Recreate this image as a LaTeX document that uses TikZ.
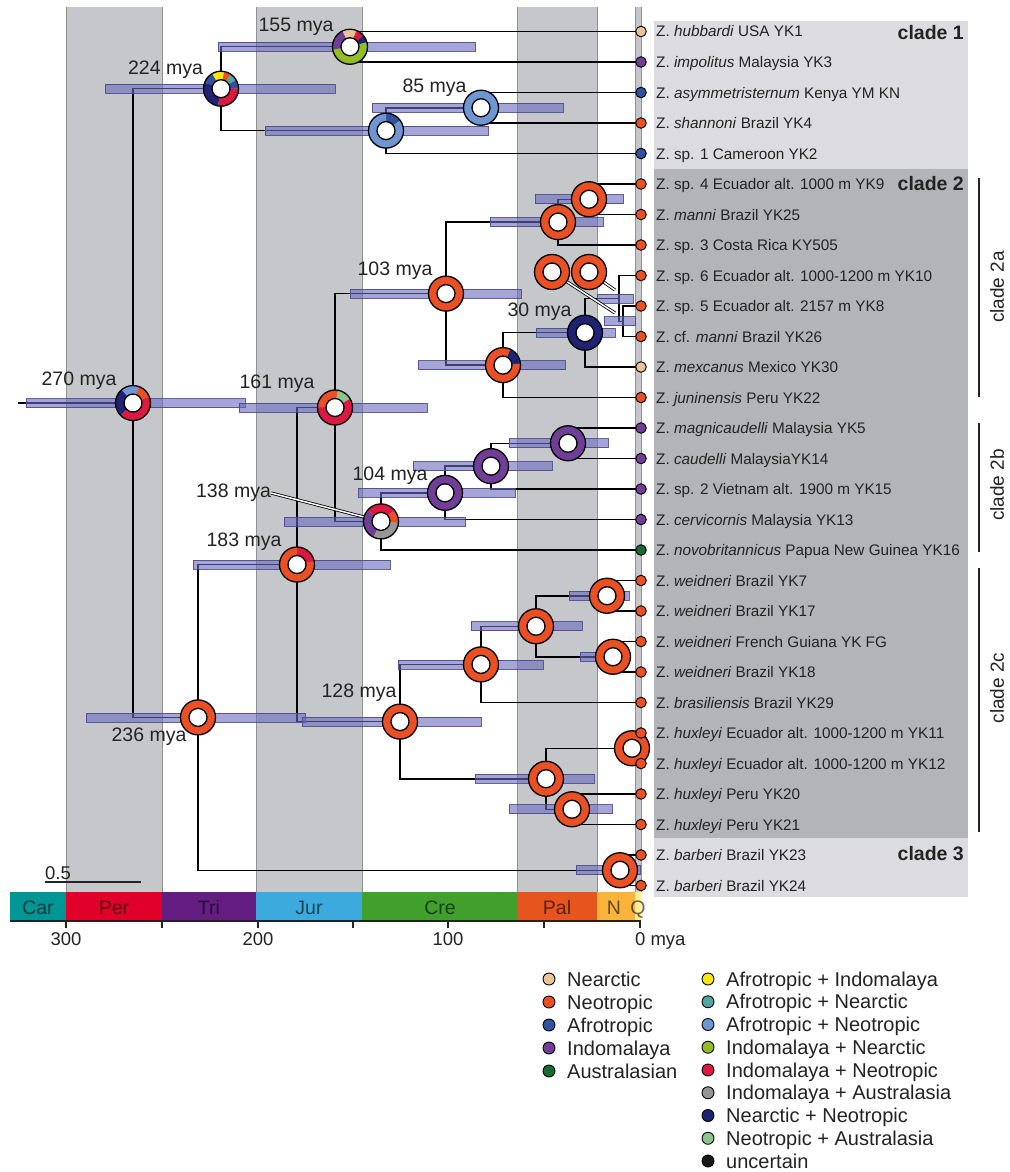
\documentclass[tikz,border=0pt]{standalone}
\usepackage{fontspec}
\setmainfont{Liberation Sans}
\usetikzlibrary{calc}
\definecolor{cNea}{RGB}{232,196,150}
\definecolor{cNeo}{RGB}{234,80,35}
\definecolor{cAfr}{RGB}{50,82,160}
\definecolor{cInd}{RGB}{112,62,150}
\definecolor{cAus}{RGB}{22,105,50}
\definecolor{cAI}{RGB}{250,230,10}
\definecolor{cANea}{RGB}{85,165,165}
\definecolor{cANeo}{RGB}{110,150,210}
\definecolor{cINea}{RGB}{145,190,35}
\definecolor{cINeo}{RGB}{220,25,65}
\definecolor{cIAus}{RGB}{150,150,150}
\definecolor{cNN}{RGB}{30,35,115}
\definecolor{cNAus}{RGB}{140,195,140}
\definecolor{cUnc}{RGB}{25,25,25}
\definecolor{pCar}{RGB}{0,150,150}
\definecolor{pPer}{RGB}{225,0,40}
\definecolor{pTri}{RGB}{100,30,130}
\definecolor{pJur}{RGB}{60,170,220}
\definecolor{pCre}{RGB}{65,160,45}
\definecolor{pPal}{RGB}{230,85,30}
\definecolor{pN}{RGB}{250,180,60}
\definecolor{pQ}{RGB}{255,240,150}
\definecolor{bandc}{RGB}{197,199,202}
\definecolor{bandedge}{RGB}{145,145,145}
\definecolor{cladeL}{RGB}{220,220,224}
\definecolor{cladeD}{RGB}{178,180,184}
\definecolor{barfill}{RGB}{105,105,190}
\definecolor{baredge}{RGB}{70,70,140}
\definecolor{txt}{RGB}{35,35,35}
\newcommand\segm[4]{\fill[#4] (#1) ++(#2:17.5pt) arc[start angle=#2,end angle=#3,radius=17.5pt] -- ++(#3:-8.5pt) arc[start angle=#3,end angle=#2,radius=9pt] -- cycle;}
\newcommand\pring[2]{\fill[white] (#1) circle[radius=9pt];
  \foreach \aa/\bb/\cc in {#2}{\segm{#1}{\aa}{\bb}{\cc}}
  \draw[line width=1.3pt] (#1) circle[radius=17.5pt] (#1) circle[radius=9pt];}
\newcommand\cb[3]{\path[cbar] (#1,#3-4.5) rectangle (#2,#3+4.5);}
\begin{document}
\begin{tikzpicture}[x=1pt,y=-1pt,
  br/.style={draw=black,line width=1.5pt},
  cbar/.style={fill=barfill,fill opacity=0.6,draw=baredge,draw opacity=0.85,line width=0.7pt},
  tipc/.style={draw=black,line width=0.9pt},
  sp/.style={font=\fontsize{15.3}{18}\selectfont,text=txt,inner sep=0pt,anchor=base west},
  mya/.style={font=\fontsize{19.5}{22}\selectfont,text=txt,inner sep=0pt},
  cladeb/.style={font=\fontsize{19.5}{22}\selectfont\bfseries,text=txt,inner sep=0pt,anchor=base east},
  cladev/.style={font=\fontsize{19}{22}\selectfont,text=txt,inner sep=0pt,rotate=90},
  perl/.style={font=\fontsize{19.5}{22}\selectfont,text=black,text opacity=0.6,inner sep=0pt,anchor=base},
  axl/.style={font=\fontsize{18.5}{22}\selectfont,text=txt,inner sep=0pt,anchor=base},
  legc/.style={circle,draw=black,line width=0.9pt,minimum size=12pt,inner sep=0pt},
  legt/.style={font=\fontsize{20}{24}\selectfont,anchor=base west,inner sep=0pt,text=txt},
  leader/.style={draw=black,double=white,double distance=1.5pt,line width=0.8pt},
  bracket/.style={draw=txt,line width=1.3pt}]
\useasboundingbox (0,0) rectangle (1009,1172);
\fill[white] (0,0) rectangle (1009,1172);
% time bands
\foreach \xa/\xb in {66/162,256/362,517/597,635/641}{
  \fill[bandc] (\xa,7) rectangle (\xb,892);
  \draw[bandedge,line width=0.8pt] (\xa,7) -- (\xa,892) (\xb,7) -- (\xb,892);
}
% clade boxes
\fill[cladeL] (654,21) rectangle (968,169);
\fill[cladeD] (654,169) rectangle (968,838);
\fill[cladeL] (654,838) rectangle (968,897);
% period bar
\foreach \xa/\xb/\pc in {10/66/pCar,66/162/pPer,162/256/pTri,256/362/pJur,362/517/pCre,517/597/pPal,597/635/pN,635/641/pQ}{
  \fill[\pc] (\xa,892) rectangle (\xb,921);
}
\node[perl] (pcar) at (38,914) {Car};
\node[perl] (pper) at (114,914) {Per};
\node[perl] (ptri) at (209,914) {Tri};
\node[perl] (pjur) at (309,914) {Jur};
\node[perl] (pcre) at (440,914) {Cre};
\node[perl] (ppal) at (557,914) {Pal};
\node[perl] (pn) at (614,914) {N};
\node[perl] (pq) at (638,914) {Q};
\draw[line width=1.3pt,txt] (10,921) -- (641,921);
\foreach \tx in {66,162,258,353,448,544,640}{\draw[line width=1.3pt,txt] (\tx,921) -- (\tx,928);}
\node[axl] (a300) at (66,945.6) {300};
\node[axl] (a200) at (258,945.6) {200};
\node[axl] (a100) at (448,945.6) {100};
\node[axl,anchor=base west] (a0) at (634.9,945.6) {0 mya};
% scale bar
\node[axl,anchor=base west] (sc) at (45,879.5) {0.5};
\draw[line width=1.3pt,txt] (45,882) -- (141,882);
% coordinates
\foreach \i in {1,...,29}{\pgfmathsetmacro\yy{31.5+(\i-1)*30.5}\coordinate (T\i) at (641,\yy);}
\coordinate (n155) at (350,46.75);
\coordinate (n85) at (481,107.75);
\coordinate (n386) at (386,130.6);
\coordinate (n224) at (221,88.7);
\coordinate (n589) at (589,199.25);
\coordinate (n558) at (558,222.1);
\coordinate (nA) at (623,321.25);
\coordinate (nB) at (619,298.4);
\coordinate (n30) at (585,332.7);
\coordinate (n503) at (503,365.1);
\coordinate (n103) at (446,293.6);
\coordinate (n568) at (568,443.25);
\coordinate (n491) at (491,466.1);
\coordinate (n104) at (445,492.8);
\coordinate (n138) at (381,521.4);
\coordinate (n161) at (335,407.5);
\coordinate (n607) at (607,595.75);
\coordinate (n613) at (613,656.75);
\coordinate (n536) at (536,626.25);
\coordinate (n481) at (481,664.4);
\coordinate (n632) at (632,748.25);
\coordinate (n572) at (572,809.25);
\coordinate (n546) at (546,778.75);
\coordinate (n128) at (400,721.6);
\coordinate (n183) at (297,564.5);
\coordinate (n620) at (620,870.25);
\coordinate (n236) at (198,717.4);
\coordinate (root) at (133,403.05);
\coordinate (rootstem) at (18,403.05);
\coordinate (fA) at (552,272);
\coordinate (fB) at (589,272);
\coordinate (eA) at (615,313);
\coordinate (eB) at (615,290);
% branches
\draw[br] (T1) -| (n155) |- (T2);
\draw[br] (T3) -| (n85) |- (T4);
\draw[br] (n85) -| (n386) |- (T5);
\draw[br] (n155) -| (n224) |- (n386);
\draw[br] (T6) -| (n589) |- (T7);
\draw[br] (n589) -| (n558) |- (T8);
\draw[br] (T10) -| (nA) |- (T11);
\draw[br] (T9) -| (nB) |- (nA);
\draw[br] (nB) -| (n30) |- (T12);
\draw[br] (n30) -| (n503) |- (T13);
\draw[br] (n558) -| (n103) |- (n503);
\draw[br] (T14) -| (n568) |- (T15);
\draw[br] (n568) -| (n491) |- (T16);
\draw[br] (n491) -| (n104) |- (T17);
\draw[br] (n104) -| (n138) |- (T18);
\draw[br] (n103) -| (n161) |- (n138);
\draw[br] (T19) -| (n607) |- (T20);
\draw[br] (T21) -| (n613) |- (T22);
\draw[br] (n607) -| (n536) |- (n613);
\draw[br] (n536) -| (n481) |- (T23);
\draw[br] (T24) -| (n632) |- (T25);
\draw[br] (T26) -| (n572) |- (T27);
\draw[br] (n632) -| (n546) |- (n572);
\draw[br] (n481) -| (n128) |- (n546);
\draw[br] (n161) -| (n183) |- (n128);
\draw[br] (T28) -| (n620) |- (T29);
\draw[br] (n183) -| (n236) |- (n620);
\draw[br] (n224) -| (root) |- (n236);
\draw[br] (rootstem) -- (root);
% confidence bars
\cb{26}{245}{403.05}
\cb{105}{335}{88.7}
\cb{218}{475}{46.75}
\cb{265}{488}{130.6}
\cb{372}{563}{107.75}
\cb{239}{427}{407.5}
\cb{350}{521}{293.6}
\cb{490}{603}{222.1}
\cb{535}{623}{199.25}
\cb{418}{565}{365.1}
\cb{536}{615}{332.7}
\cb{597}{633}{298.4}
\cb{604}{635}{321.25}
\cb{284}{465}{521.4}
\cb{358}{515}{492.8}
\cb{413}{552}{466.1}
\cb{509}{608}{443.25}
\cb{193}{390}{564.5}
\cb{86}{305}{717.4}
\cb{302}{481}{721.6}
\cb{398}{543}{664.4}
\cb{471}{582}{626.25}
\cb{569}{629}{595.75}
\cb{580}{597}{656.75}
\cb{475}{594}{778.75}
\cb{509}{612}{809.25}
\cb{576}{640}{870.25}
% labels with leaders
\node[mya] (l138) at (233.5,493) {138 mya};
\draw[leader] (l138.east) -- (n138);
\draw[leader] (fA) -- (eA);
\draw[leader] (fB) -- (eB);
% rings
\pring{root}{130/225/cNN,70/130/cANeo,20/70/cNeo,-135/20/cINeo}
\pring{n224}{120/160/cAfr,80/120/cAI,56/80/cNeo,30/56/cANea,0/30/cAfr,-100/0/cINeo,160/260/cNN}
\pring{n155}{115/190/cInd,68/115/cNea,40/68/cINeo,15/40/cNN,-170/15/cINea}
\pring{n386}{35/90/cAfr,90/395/cANeo}
\pring{n85}{0/360/cANeo}
\pring{n161}{80/180/cNeo,30/80/cNAus,-180/30/cINeo}
\pring{n103}{0/360/cNeo}
\pring{n558}{0/360/cNeo}
\pring{n589}{0/360/cNeo}
\pring{fA}{0/360/cNeo}
\pring{fB}{0/360/cNeo}
\pring{n30}{0/360/cNN}
\pring{n503}{5/65/cNN,65/365/cNeo}
\pring{n138}{140/245/cInd,40/140/cINeo,-5/40/cNeo,-115/-5/cIAus}
\pring{n104}{0/360/cInd}
\pring{n491}{0/360/cInd}
\pring{n568}{0/360/cInd}
\pring{n183}{10/90/cINeo,90/370/cNeo}
\pring{n236}{0/360/cNeo}
\pring{n128}{0/360/cNeo}
\pring{n481}{0/360/cNeo}
\pring{n536}{0/360/cNeo}
\pring{n607}{0/360/cNeo}
\pring{n613}{0/360/cNeo}
\pring{n546}{0/360/cNeo}
\pring{n632}{0/360/cNeo}
\pring{n572}{0/360/cNeo}
\pring{n620}{0/360/cNeo}
% tips and species names
\foreach \i/\cc/\tx in {
1/cNea/{Z. \textit{hubbardi} USA YK1},
2/cInd/{Z. \textit{impolitus} Malaysia YK3},
3/cAfr/{Z. \textit{asymmetristernum} Kenya YM KN},
4/cNeo/{Z. \textit{shannoni} Brazil YK4},
5/cAfr/{Z. sp. 1 Cameroon YK2},
6/cNeo/{Z. sp. 4 Ecuador alt. 1000 m YK9},
7/cNeo/{Z. \textit{manni} Brazil YK25},
8/cNeo/{Z. sp. 3 Costa Rica KY505},
9/cNeo/{Z. sp. 6 Ecuador alt. 1000-1200 m YK10},
10/cNeo/{Z. sp. 5 Ecuador alt. 2157 m YK8},
11/cNeo/{Z. cf. \textit{manni} Brazil YK26},
12/cNea/{Z. \textit{mexcanus} Mexico YK30},
13/cNeo/{Z. \textit{juninensis} Peru YK22},
14/cInd/{Z. \textit{magnicaudelli} Malaysia YK5},
15/cInd/{Z. \textit{caudelli} MalaysiaYK14},
16/cInd/{Z. sp. 2 Vietnam alt. 1900 m YK15},
17/cInd/{Z. \textit{cervicornis} Malaysia YK13},
18/cAus/{Z. \textit{novobritannicus} Papua New Guinea YK16},
19/cNeo/{Z. \textit{weidneri} Brazil YK7},
20/cNeo/{Z. \textit{weidneri} Brazil YK17},
21/cNeo/{Z. \textit{weidneri} French Guiana YK FG},
22/cNeo/{Z. \textit{weidneri} Brazil YK18},
23/cNeo/{Z. \textit{brasiliensis} Brazil YK29},
24/cNeo/{Z. \textit{huxleyi} Ecuador alt. 1000-1200 m YK11},
25/cNeo/{Z. \textit{huxleyi} Ecuador alt. 1000-1200 m YK12},
26/cNeo/{Z. \textit{huxleyi} Peru YK20},
27/cNeo/{Z. \textit{huxleyi} Peru YK21},
28/cNeo/{Z. \textit{barberi} Brazil YK23},
29/cNeo/{Z. \textit{barberi} Brazil YK24}}{
  \draw[tipc,fill=\cc] (T\i) circle[radius=5.3pt];
  \node[sp] (S\i) at ($(T\i)+(15,5.5)$) {\tx};
}
% age labels
\node[mya] (l155) at (296,27) {155 mya};
\node[mya] (l224) at (165.5,70) {224 mya};
\node[mya] (l85) at (434.5,88) {85 mya};
\node[mya] (l103) at (395,271) {103 mya};
\node[mya] (l30) at (539.5,312) {30 mya};
\node[mya] (l270) at (79,381) {270 mya};
\node[mya] (l161) at (277,384) {161 mya};
\node[mya] (l104) at (390,476) {104 mya};
\node[mya] (l183) at (244,542) {183 mya};
\node[mya] (l128) at (359,693) {128 mya};
\node[mya] (l236) at (149,737) {236 mya};
% clade labels
\node[cladeb] (c1) at (964,40) {clade 1};
\node[cladeb] (c2) at (964,190) {clade 2};
\node[cladeb] (c3) at (964,860) {clade 3};
\coordinate (b2at) at (979,178); \coordinate (b2ab) at (979,397);
\coordinate (b2bt) at (979,423); \coordinate (b2bb) at (979,552);
\coordinate (b2ct) at (979,568); \coordinate (b2cb) at (979,832);
\draw[bracket] (b2at) -- (b2ab);
\draw[bracket] (b2bt) -- (b2bb);
\draw[bracket] (b2ct) -- (b2cb);
\node[cladev] (c2a) at (997,287) {clade 2a};
\node[cladev] (c2b) at (997,485) {clade 2b};
\node[cladev] (c2c) at (997,688) {clade 2c};
% legend
\foreach \k/\cc/\tx in {0/cNea/Nearctic,1/cNeo/Neotropic,2/cAfr/Afrotropic,3/cInd/Indomalaya,4/cAus/Australasian}{
  \node[legc,fill=\cc] (LA\k) at (549,{979+23*\k}) {};
  \node[legt] (LAt\k) at (567,{986+23*\k}) {\tx};
}
\foreach \k/\cc/\tx in {0/cAI/Afrotropic + Indomalaya,1/cANea/Afrotropic + Nearctic,2/cANeo/Afrotropic + Neotropic,3/cINea/Indomalaya + Nearctic,4/cINeo/Indomalaya + Neotropic,5/cIAus/Indomalaya + Australasia,6/cNN/Nearctic + Neotropic,7/cNAus/Neotropic + Australasia,8/cUnc/uncertain}{
  \node[legc,fill=\cc] (LB\k) at (708,{979+22.75*\k}) {};
  \node[legt] (LBt\k) at (726,{986+22.75*\k}) {\tx};
}
\end{tikzpicture}
\end{document}
